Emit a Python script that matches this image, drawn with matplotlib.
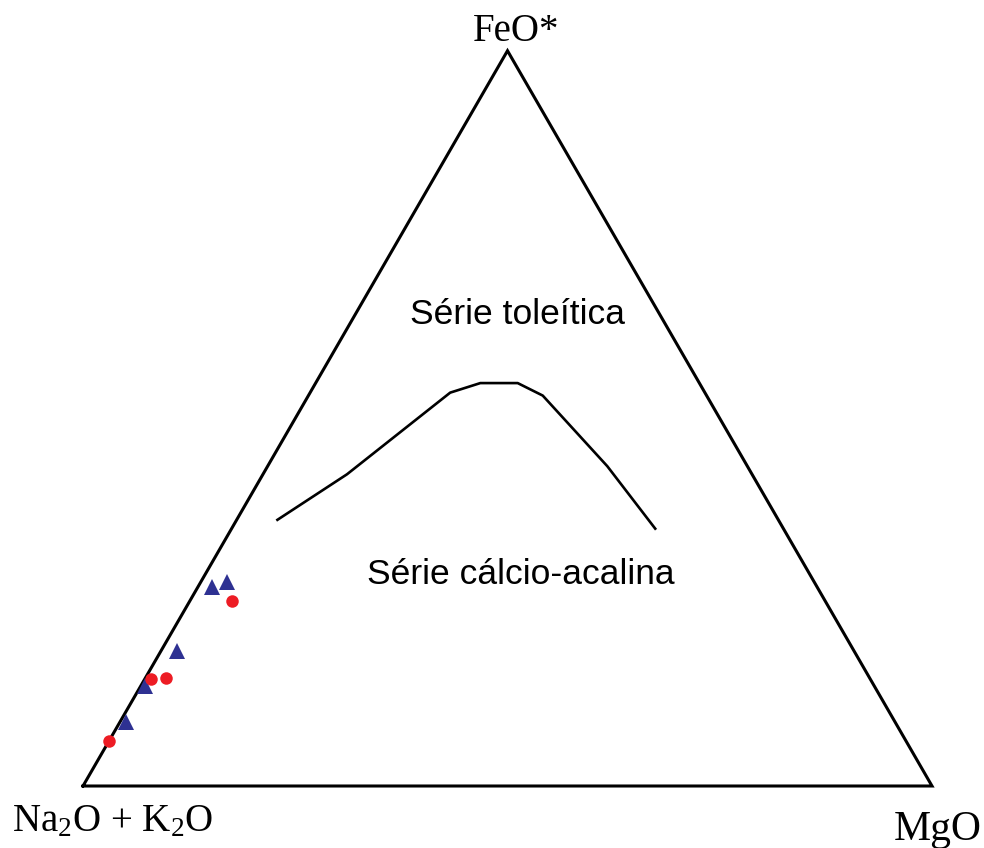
import numpy as np
import matplotlib
matplotlib.use('Agg')
import matplotlib.pyplot as plt

plt.rcParams['mathtext.fontset'] = 'custom'
plt.rcParams['mathtext.rm'] = 'Liberation Serif'
plt.rcParams['mathtext.default'] = 'rm'

# AFM compositions (wt. % normalised): A = Na2O+K2O, F = FeO*, M = MgO
# tholeiitic / calc-alkaline dividing line
line_A = [59.0, 47.7, 30.0, 25.8, 21.4, 19.3, 16.5, 15.1]
line_F = [36.2, 42.4, 53.5, 54.8, 54.8, 53.1, 43.5, 35.0]
line_M = [4.8, 9.9, 16.5, 19.4, 23.8, 27.6, 40.0, 49.9]

# samples plotted as blue triangles
tri_A = [71.3, 69.2, 79.8, 85.9, 90.6]
tri_F = [27.0, 27.7, 18.3, 13.6, 8.7]
tri_M = [1.7, 3.1, 1.9, 0.5, 0.7]

# samples plotted as red dots
dot_A = [69.9, 84.7, 82.9, 93.9]
dot_F = [25.2, 14.6, 14.7, 6.1]
dot_M = [4.9, 0.7, 2.4, 0.0]


def to_xy(A, F, M):
    # barycentric -> cartesian; A bottom-left, M bottom-right, F apex
    A, F, M = np.asarray(A, float), np.asarray(F, float), np.asarray(M, float)
    tot = A + F + M
    f, m = F / tot, M / tot
    return m + f / 2.0, f * np.sqrt(3) / 2.0


fig = plt.figure(figsize=(9.84, 8.48), dpi=100)
ax = fig.add_axes([0, 0, 1, 1])
s = 849.0
ax.set_xlim(-83 / s, (984 - 83) / s)
ax.set_ylim(-(848 - 786) / s, 786 / s)
ax.axis('off')

# outline of the triangle
tx, ty = to_xy([100, 0, 0, 100], [0, 0, 100, 0], [0, 100, 0, 0])
ax.plot(tx, ty, color='black', lw=2.2, solid_joinstyle='miter', zorder=2)

lx, ly = to_xy(line_A, line_F, line_M)
ax.plot(lx, ly, color='black', lw=1.9, zorder=2)

x, y = to_xy(tri_A, tri_F, tri_M)
ax.plot(x, y, '^', color='#2e3192', markersize=12, markeredgewidth=0, zorder=3)
x, y = to_xy(dot_A, dot_F, dot_M)
ax.plot(x, y, 'o', color='#ed1c24', markersize=9, markeredgewidth=0, zorder=3)

serif = 'Liberation Serif'
ax.text(0.5 + 9 / s, 0.866 + 10 / s, 'FeO*', family=serif, fontsize=28,
        ha='center', va='baseline')
ax.text(-83 / s + 12 / s, -45 / s, 'Na$_2$O + K$_2$O', family=serif, fontsize=28,
        ha='left', va='baseline')
ax.text((982 - 83) / s, -54 / s, 'MgO', family=serif, fontsize=30,
        ha='right', va='baseline')

sans = 'Liberation Sans'
ax.text((517 - 83) / s, (786 - 315) / s, 'Série toleítica', family=sans,
        fontsize=25.5, ha='center', va='center')
ax.text((521 - 83) / s, (786 - 574) / s, 'Série cálcio-acalina', family=sans,
        fontsize=25.5, ha='center', va='center')

fig.savefig('out.png', dpi=100, facecolor='white')
